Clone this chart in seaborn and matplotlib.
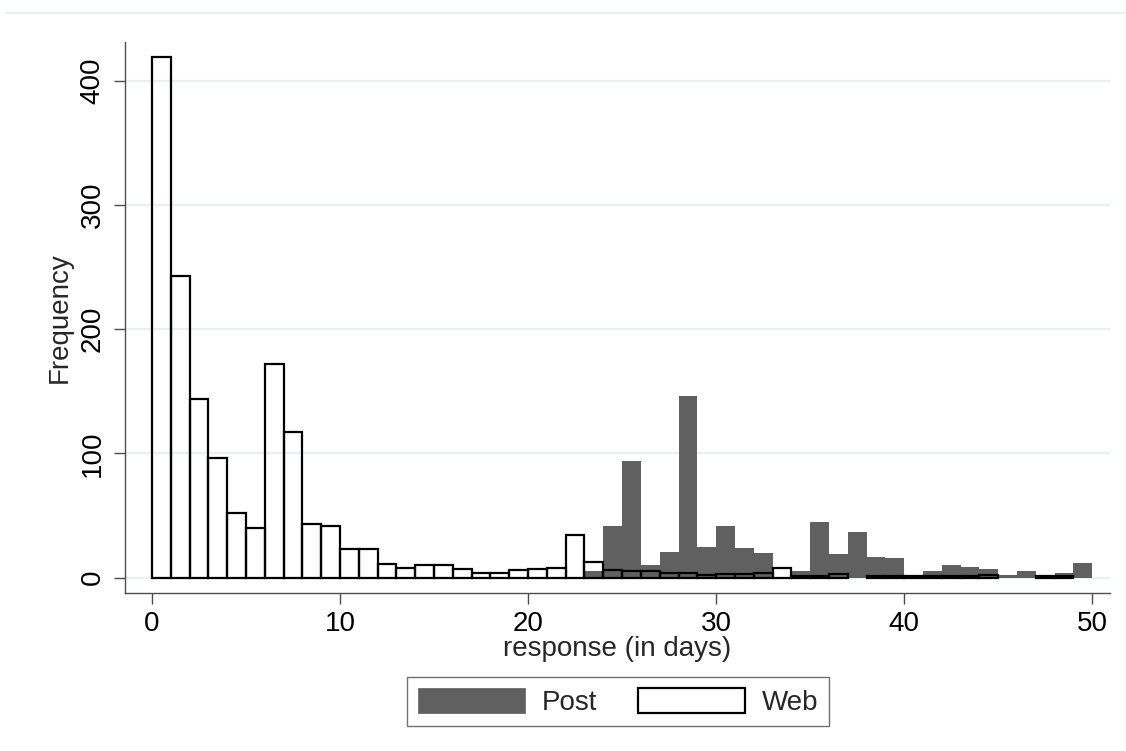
import numpy as np
import pandas as pd
import matplotlib.pyplot as plt
from matplotlib.lines import Line2D
from matplotlib.patches import Patch
import seaborn as sns

sns.set_theme(style="white")
plt.rcParams["font.family"] = ["Liberation Sans", "DejaVu Sans"]

# frequency per one-day bin
web_days = np.arange(0, 50)
web_counts = [419, 243, 144, 96, 52, 40, 172, 117, 43, 42,
              23, 23, 11, 8, 10, 10, 7, 4, 4, 6,
              7, 8, 34, 13, 6, 5, 5, 4, 4, 2,
              3, 3, 4, 8, 1, 1, 3, 0, 1, 1,
              1, 1, 1, 1, 2, 0, 0, 1, 1, 0]
post_days = np.arange(23, 50)
post_counts = [5, 42, 94, 10, 21, 146, 25, 42, 24, 20,
               0, 5, 45, 19, 37, 17, 16, 1, 5, 10,
               9, 7, 2, 5, 1, 4, 12]

y_ticks = [0, 100, 200, 300, 400]
x_ticks = [0, 10, 20, 30, 40, 50]

POST = "#606060"
AXIS = "#4d4d4d"
GRID = "#e9f1f2"
FS = 20

web_df = pd.DataFrame({"day": web_days + 0.5, "n": web_counts})
post_df = pd.DataFrame({"day": post_days + 0.5, "n": post_counts})

fig = plt.figure(figsize=(11.26, 7.51), dpi=100)
ax = fig.add_axes([0.111, 0.21, 0.8747, 0.7345])

sns.histplot(data=post_df, x="day", weights="n", binwidth=1, binrange=(23, 50),
             color=POST, alpha=1, linewidth=0, ax=ax)
sns.histplot(data=web_df, x="day", weights="n", binwidth=1, binrange=(0, 50),
             fill=False, color="black", linewidth=1.6, ax=ax)

# empty bins leave no mark in the original
for p in ax.patches:
    if p.get_height() == 0:
        p.set_visible(False)

ax.set_xlim(-1.435, 50.94)
ax.set_ylim(-12.56, 431.4)
ax.set_xticks(x_ticks)
ax.set_yticks(y_ticks)
ax.set_yticklabels([str(v) for v in y_ticks], rotation=90, va="center")

ax.grid(axis="y", color=GRID, linewidth=1.6, zorder=0)
ax.set_axisbelow(True)
for side in ["top", "right"]:
    ax.spines[side].set_visible(False)
for side in ["left", "bottom"]:
    ax.spines[side].set_color(AXIS)
    ax.spines[side].set_linewidth(1.0)

ax.tick_params(axis="both", which="major", direction="out", length=8, width=1,
               color=AXIS, labelsize=FS, labelcolor="black", bottom=True, left=True)
ax.tick_params(axis="x", pad=5)
ax.tick_params(axis="y", pad=6)

ax.set_xlabel("response (in days)", fontsize=FS, labelpad=-1)
ax.set_ylabel("Frequency", fontsize=FS, labelpad=5)

handles = [Patch(facecolor=POST, edgecolor=POST, linewidth=0.5),
           Patch(facecolor="white", edgecolor="black", linewidth=1.6)]
leg = fig.legend(handles, ["Post", "Web"], loc="center", ncol=2,
                 bbox_to_anchor=(0.549, 0.0655), fontsize=FS, frameon=True,
                 fancybox=False, handlelength=3.85, handleheight=1.0,
                 handletextpad=0.6, columnspacing=1.5, borderpad=0.38)
leg.get_frame().set_edgecolor(AXIS)
leg.get_frame().set_linewidth(1.0)

# faint outer border line along the top of the graph region
fig.add_artist(Line2D([6 / 1126, 1.0], [1 - 13.3 / 751] * 2,
                      color="#edf1f1", linewidth=1.5))

fig.savefig("out.png", dpi=100)
